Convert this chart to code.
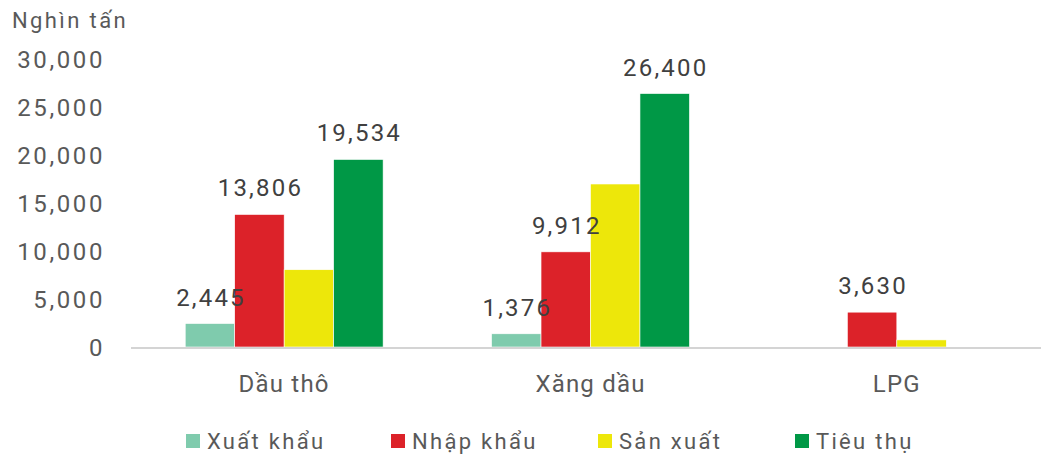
<!DOCTYPE html>
<html>
<head>
<meta charset="utf-8">
<script src="https://cdn.jsdelivr.net/npm/d3@7"></script>
<style>
  body { margin: 0; background: #fff; }
  text { font-family: Roboto, "Noto Sans", sans-serif; }
  .tick-label { fill: #595959; font-size: 24px; letter-spacing: 2.6px; }
  .value-label { fill: #404040; font-size: 24px; letter-spacing: 2.2px; }
  .cat-label { fill: #595959; font-size: 24px; letter-spacing: 1.2px; }
  .legend-text { fill: #595959; font-size: 22px; letter-spacing: 2.3px; }
  .title-text { fill: #595959; font-size: 22px; letter-spacing: 2.4px; }
</style>
</head>
<body>
<div id="wrapper"></div>
<script>
// 1. Data
const categories = ['Dầu thô', 'Xăng dầu', 'LPG'];
const seriesNames = ['Xuất khẩu', 'Nhập khẩu', 'Sản xuất', 'Tiêu thụ'];
const seriesColors = ['#7fcbad', '#dc2229', '#ede70a', '#009846'];
const seriesLabelled = [true, true, false, true];
const xuatKhau = [2445, 1376, null];
const nhapKhau = [13806, 9912, 3630];
const sanXuat = [8050, 16980, 740];
const tieuThu = [19534, 26400, null];
const seriesValues = [xuatKhau, nhapKhau, sanXuat, tieuThu];
const yTicks = [0, 5000, 10000, 15000, 20000, 25000, 30000];
const yTitle = 'Nghìn tấn';

// 2. Dimensions
const dimensions = {
  width: 1041,
  height: 455,
  plotLeft: 131,
  plotRight: 1050,
  plotTop: 59,
  plotBottom: 347,
};

// 3. Canvas
const wrapper = d3
  .select('#wrapper')
  .append('svg')
  .attr('width', dimensions.width)
  .attr('height', dimensions.height);

// 4. Scales
const xScale = d3
  .scaleBand()
  .domain(categories)
  .range([dimensions.plotLeft, dimensions.plotRight])
  .paddingInner(0.354)
  .paddingOuter(0.177);

const seriesScale = d3
  .scaleBand()
  .domain(seriesNames)
  .range([0, xScale.bandwidth()]);

const yScale = d3
  .scaleLinear()
  .domain([0, 30000])
  .range([dimensions.plotBottom, dimensions.plotTop]);

const fmt = d3.format(',');

// 5. Peripherals
wrapper
  .append('text')
  .attr('x', 12)
  .attr('y', 28)
  .attr('class', 'title-text')
  .text(yTitle);

// letter-spacing adds trailing space, so shift end-anchored text right a bit
wrapper
  .append('g')
  .selectAll('text')
  .data(yTicks)
  .join('text')
  .attr('class', 'tick-label')
  .attr('x', 105)
  .attr('y', (d) => yScale(d))
  .attr('dy', '0.36em')
  .attr('text-anchor', 'end')
  .text((d) => fmt(d));

// 6. Bars
const barGroups = wrapper
  .append('g')
  .selectAll('g')
  .data(categories)
  .join('g')
  .attr('transform', (d) => `translate(${xScale(d)},0)`);

barGroups
  .selectAll('rect')
  .data((c, ci) =>
    seriesNames
      .map((s, si) => ({ s, si, v: seriesValues[si][ci] }))
      .filter((d) => d.v != null)
  )
  .join('rect')
  .attr('x', (d) => seriesScale(d.s))
  .attr('y', (d) => yScale(d.v))
  .attr('width', seriesScale.bandwidth())
  .attr('height', (d) => yScale(0) - yScale(d.v))
  .attr('fill', (d) => seriesColors[d.si])
  .attr('stroke', '#fff')
  .attr('stroke-width', 0.6);

// baseline
wrapper
  .append('line')
  .attr('x1', dimensions.plotLeft)
  .attr('x2', dimensions.width)
  .attr('y1', yScale(0) + 1)
  .attr('y2', yScale(0) + 1)
  .attr('stroke', '#d4d4d4')
  .attr('stroke-width', 2);

barGroups
  .selectAll('text.value-label')
  .data((c, ci) =>
    seriesNames
      .map((s, si) => ({ s, si, v: seriesValues[si][ci] }))
      .filter((d) => d.v != null && seriesLabelled[d.si])
  )
  .join('text')
  .attr('class', 'value-label')
  .attr('x', (d) => seriesScale(d.s) + seriesScale.bandwidth() / 2 + 1)
  .attr('y', (d) => yScale(d.v) - 18)
  .attr('text-anchor', 'middle')
  .text((d) => fmt(d.v));

wrapper
  .append('g')
  .selectAll('text')
  .data(categories)
  .join('text')
  .attr('class', 'cat-label')
  .attr('x', (d) => xScale(d) + xScale.bandwidth() / 2)
  .attr('y', 392)
  .attr('text-anchor', 'middle')
  .text((d) => d);

// 7. Legend
const legendX = [186, 391, 598, 795];
const legend = wrapper
  .append('g')
  .selectAll('g')
  .data(seriesNames)
  .join('g')
  .attr('transform', (d, i) => `translate(${legendX[i]},434)`);

legend
  .append('rect')
  .attr('width', 14)
  .attr('height', 14)
  .attr('fill', (d, i) => seriesColors[i]);

legend
  .append('text')
  .attr('class', 'legend-text')
  .attr('x', 21)
  .attr('y', 15)
  .text((d) => d);
</script>
</body>
</html>
